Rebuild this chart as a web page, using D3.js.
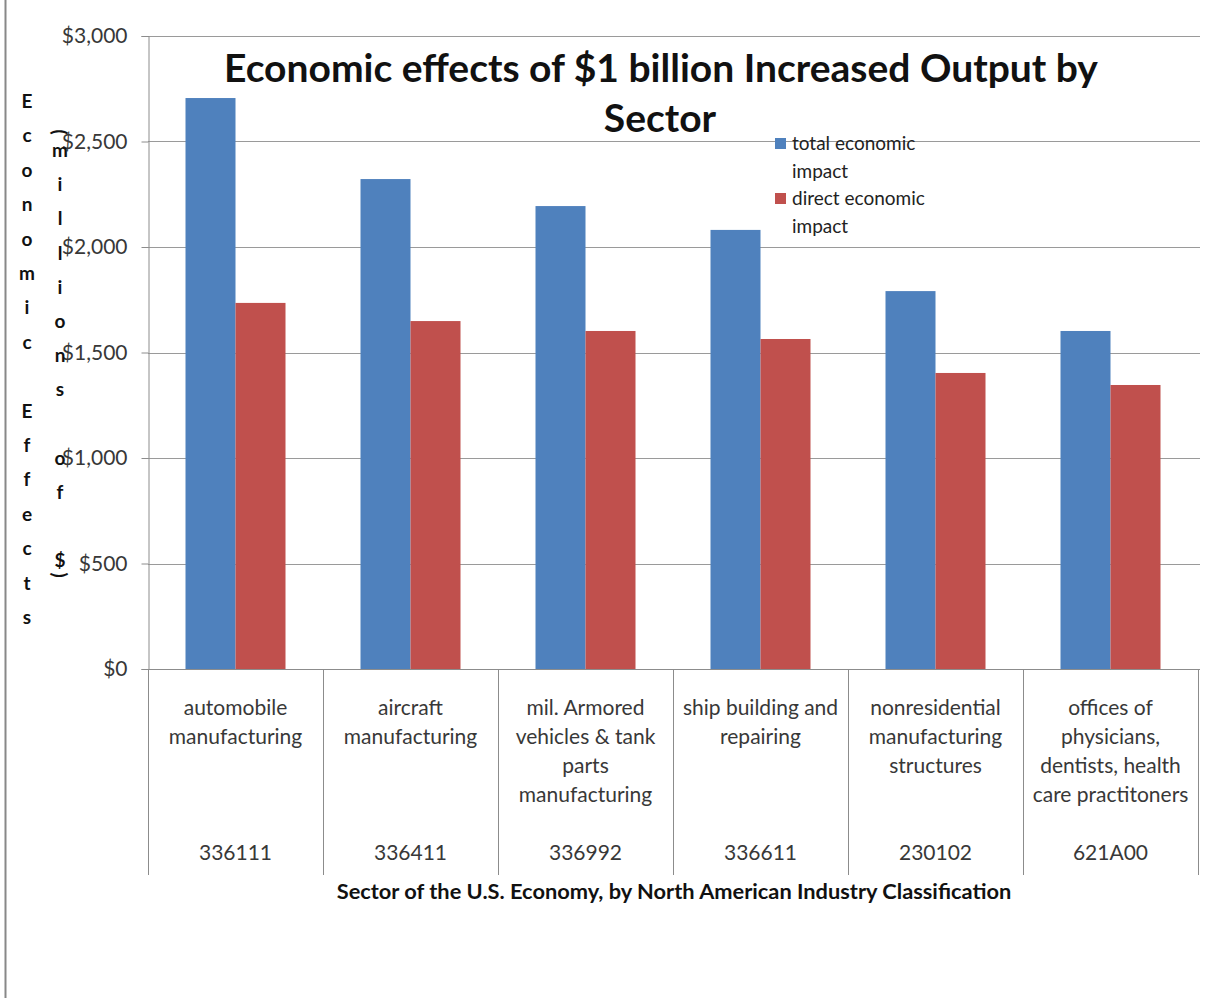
<!DOCTYPE html>
<html lang="en">
<head>
<meta charset="UTF-8">
<title>Economic effects by Sector</title>
<script src="https://cdn.jsdelivr.net/npm/d3@7"></script>
<style>
  body { margin: 0; background: #fff; }
  text { font-family: Lato, "Noto Sans", sans-serif; }
</style>
</head>
<body>
<script>
// data
const sectors = [
  "automobile manufacturing",
  "aircraft manufacturing",
  "mil. Armored vehicles & tank parts manufacturing",
  "ship building and repairing",
  "nonresidential manufacturing structures",
  "offices of physicians, dentists, health care practitoners"
];
const sectorLines = [
  ["automobile", "manufacturing"],
  ["aircraft", "manufacturing"],
  ["mil. Armored", "vehicles & tank", "parts", "manufacturing"],
  ["ship building and", "repairing"],
  ["nonresidential", "manufacturing", "structures"],
  ["offices of", "physicians,", "dentists, health", "care practitoners"]
];
const naicsCodes = ["336111", "336411", "336992", "336611", "230102", "621A00"];
const seriesNames = ["total economic impact", "direct economic impact"];
const totalImpact = [2706, 2322, 2194, 2081, 1791, 1602];
const directImpact = [1735, 1649, 1602, 1564, 1403, 1346];
const yTicks = [0, 500, 1000, 1500, 2000, 2500, 3000];
const colors = ["#4F81BD", "#C0504D"];

const width = 1215, height = 998;
const plotL = 148, plotR = 1198, plotT = 36, plotB = 669;

const svg = d3.select("body").append("svg")
  .attr("width", width)
  .attr("height", height);

// outer frame line on the left
svg.append("line")
  .attr("x1", 5.5).attr("x2", 5.5)
  .attr("y1", 0).attr("y2", height)
  .attr("stroke", "#888").attr("stroke-width", 2);

const x = d3.scaleBand().domain(sectors).range([plotL, plotR]).padding(0);
const xs = d3.scaleBand().domain(seriesNames)
  .range([37.5, x.bandwidth() - 37.5]).padding(0);
const y = d3.scaleLinear().domain([0, 3000]).range([plotB, plotT]);

// gridlines
svg.append("g")
  .selectAll("line")
  .data(yTicks.filter(d => d > 0))
  .join("line")
  .attr("x1", plotL).attr("x2", plotR + 2)
  .attr("y1", d => Math.round(y(d)) + 0.5)
  .attr("y2", d => Math.round(y(d)) + 0.5)
  .attr("stroke", "#9a9a9a");

// y axis
const yAxis = svg.append("g")
  .attr("transform", `translate(${plotL + 0.5},0)`)
  .call(d3.axisLeft(y).tickValues(yTicks).tickSize(7).tickPadding(14)
    .tickFormat(d => "$" + d3.format(",")(d)));
yAxis.select(".domain").attr("stroke", "#8c8c8c");
yAxis.selectAll(".tick line").attr("stroke", "#8c8c8c");
yAxis.selectAll(".tick text")
  .attr("font-size", 21).attr("fill", "#383838")
  .style("font-family", "Lato, 'Noto Sans', sans-serif");

// bars
const rows = sectors.map((s, i) => ({ sector: s, values: [totalImpact[i], directImpact[i]] }));
svg.append("g")
  .selectAll("g")
  .data(rows)
  .join("g")
  .attr("transform", d => `translate(${x(d.sector)},0)`)
  .selectAll("rect")
  .data(d => d.values.map((v, j) => ({ series: seriesNames[j], value: v, j })))
  .join("rect")
  .attr("x", d => xs(d.series))
  .attr("width", xs.bandwidth())
  .attr("y", d => y(d.value))
  .attr("height", d => y(0) - y(d.value))
  .attr("fill", d => colors[d.j]);

// category axis
svg.append("line")
  .attr("x1", plotL).attr("x2", plotR + 2)
  .attr("y1", plotB + 0.5).attr("y2", plotB + 0.5)
  .attr("stroke", "#8c8c8c");
const bounds = sectors.map(s => x(s)).concat([plotR]);
svg.append("g")
  .selectAll("line")
  .data(bounds)
  .join("line")
  .attr("x1", d => Math.round(d) + 0.5).attr("x2", d => Math.round(d) + 0.5)
  .attr("y1", plotB).attr("y2", 875)
  .attr("stroke", "#8c8c8c");

const cat = svg.append("g")
  .selectAll("g")
  .data(sectors)
  .join("g")
  .attr("transform", d => `translate(${x(d) + x.bandwidth() / 2},0)`);
cat.each(function(d, i) {
  const g = d3.select(this);
  sectorLines[i].forEach((line, k) => {
    g.append("text")
      .attr("y", 715 + k * 29)
      .attr("text-anchor", "middle")
      .attr("font-size", 21)
      .attr("fill", "#383838")
      .text(line);
  });
  g.append("text")
    .attr("y", 860)
    .attr("text-anchor", "middle")
    .attr("font-size", 21)
    .attr("fill", "#383838")
    .text(naicsCodes[i]);
});

// x axis title
svg.append("text")
  .attr("x", 674).attr("y", 899)
  .attr("text-anchor", "middle")
  .attr("font-size", 21.8).attr("font-weight", "bold")
  .attr("fill", "#111")
  .text("Sector of the U.S. Economy, by North American Industry Classification");

// title
const title = svg.append("text")
  .attr("text-anchor", "middle")
  .attr("font-size", 39).attr("font-weight", "bold")
  .attr("fill", "#111");
title.append("tspan").attr("x", 661).attr("y", 82)
  .text("Economic effects of $1 billion Increased Output by");
title.append("tspan").attr("x", 660).attr("y", 132).text("Sector");

// y axis title, letters stacked vertically
const yTitle1 = "Economic Effects".split("");
svg.append("g")
  .selectAll("text")
  .data(yTitle1)
  .join("text")
  .attr("x", 27).attr("y", (d, i) => 108 + i * 34.4)
  .attr("text-anchor", "middle")
  .attr("font-size", 19).attr("font-weight", "bold").attr("fill", "#111")
  .text(d => d);

const yTitle2 = "millions of $".split("");
svg.append("g")
  .selectAll("text")
  .data(yTitle2)
  .join("text")
  .attr("x", 60).attr("y", (d, i) => 157 + i * 34.2)
  .attr("text-anchor", "middle")
  .attr("font-size", 19).attr("font-weight", "bold").attr("fill", "#111")
  .text(d => d);
// rotated brackets
[["(", 132], [")", 575]].forEach(([c, cy]) => {
  svg.append("text")
    .attr("transform", `translate(60,${cy}) rotate(90)`)
    .attr("text-anchor", "middle").attr("dy", "0.35em")
    .attr("font-size", 19).attr("font-weight", "bold").attr("fill", "#111")
    .text(c);
});

// legend
const legend = svg.append("g").attr("transform", "translate(775,138)");
seriesNames.forEach((name, i) => {
  const g = legend.append("g").attr("transform", `translate(0,${i * 55})`);
  g.append("rect").attr("width", 11).attr("height", 11).attr("fill", colors[i]);
  g.append("text").attr("x", 17).attr("y", 12)
    .attr("font-size", 19).attr("fill", "#222")
    .text(name.replace(" impact", ""));
  g.append("text").attr("x", 17).attr("y", 40)
    .attr("font-size", 19).attr("fill", "#222")
    .text("impact");
});
</script>
</body>
</html>
